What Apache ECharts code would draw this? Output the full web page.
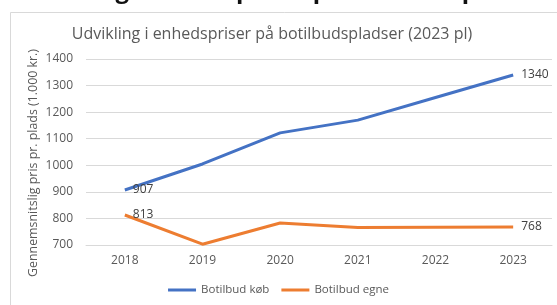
<!DOCTYPE html>
<html>
<head>
<meta charset="utf-8">
<script src="https://cdn.jsdelivr.net/npm/echarts@6/dist/echarts.min.js"></script>
<style>
  html, body { margin: 0; padding: 0; background: #fff; }
  #chart { width: 557px; height: 305px; }
</style>
</head>
<body>
<div id="chart"></div>
<script>
const years = ["2018", "2019", "2020", "2021", "2022", "2023"];
const koebValues = [907, 1005, 1122, 1170, 1255, 1340];
const egneValues = [813, 703, 783, 766, 767, 768];
const seriesNames = ["Botilbud køb", "Botilbud egne"];
const yAxisTitle = "Gennemsnitslig pris pr. plads (1.000 kr.)";

const chart = echarts.init(document.getElementById("chart"));
const font = "'Open Sans', 'Noto Sans', sans-serif";

// only first and last point get a value label
function endLabels(values) {
  return values.map((v, i) => ({
    value: v,
    label: { show: i === 0 || i === values.length - 1 },
  }));
}

const labelStyle = {
  position: "right",
  distance: 8,
  color: "#404040",
  fontSize: 12,
  fontFamily: font,
};

chart.setOption({
  animation: false,
  graphic: [
    {
      type: "text",
      left: 16,
      top: -21,
      style: {
        text: "Udvikling i enhedspriser på botilbudspladser",
        font: "bold 24px 'Open Sans', sans-serif",
        fill: "#111",
      },
    },
    {
      type: "rect",
      shape: { x: 10.5, y: 12.5, width: 600, height: 320 },
      style: { fill: "#fff", stroke: "#d9d9d9", lineWidth: 1 },
      z: -1,
    },
    {
      type: "text",
      x: 33,
      y: 163,
      rotation: Math.PI / 2,
      style: {
        text: yAxisTitle,
        fill: "#595959",
        font: "12.4px 'Open Sans', sans-serif",
        align: "center",
        verticalAlign: "middle",
      },
    },
  ],
  title: {
    text: "Udvikling i enhedspriser på botilbudspladser (2023 pl)",
    left: 267,
    textAlign: "center",
    top: 21,
    textStyle: {
      color: "#595959",
      fontSize: 16,
      fontWeight: "normal",
      fontFamily: font,
    },
  },
  legend: {
    bottom: 4,
    left: "center",
    itemWidth: 28,
    itemHeight: 3,
    itemGap: 12,
    icon: "rect",
    textStyle: { color: "#595959", fontSize: 11.5, fontFamily: font },
    data: seriesNames,
  },
  grid: { left: 86, right: 5, top: 59, bottom: 60 },
  xAxis: {
    type: "category",
    data: years,
    boundaryGap: true,
    axisLine: { lineStyle: { color: "#d9d9d9" } },
    axisTick: { show: false },
    axisLabel: { color: "#595959", fontSize: 12, fontFamily: font, margin: 10 },
  },
  yAxis: {
    type: "value",
    min: 700,
    max: 1400,
    interval: 100,
    axisLine: { show: false },
    axisTick: { show: false },
    axisLabel: {
      color: "#595959",
      fontSize: 12,
      fontFamily: font,
      margin: 13,
      formatter: (v) => String(v),
    },
    splitLine: { lineStyle: { color: "#d9d9d9" } },
  },
  series: [
    {
      name: seriesNames[0],
      type: "line",
      data: endLabels(koebValues),
      showSymbol: true,
      symbol: "circle",
      symbolSize: 0,
      lineStyle: { width: 3, color: "#4472c4" },
      itemStyle: { color: "#4472c4" },
      label: labelStyle,
    },
    {
      name: seriesNames[1],
      type: "line",
      data: endLabels(egneValues),
      showSymbol: true,
      symbol: "circle",
      symbolSize: 0,
      lineStyle: { width: 3, color: "#ed7d31" },
      itemStyle: { color: "#ed7d31" },
      label: labelStyle,
    },
  ],
});
</script>
</body>
</html>
